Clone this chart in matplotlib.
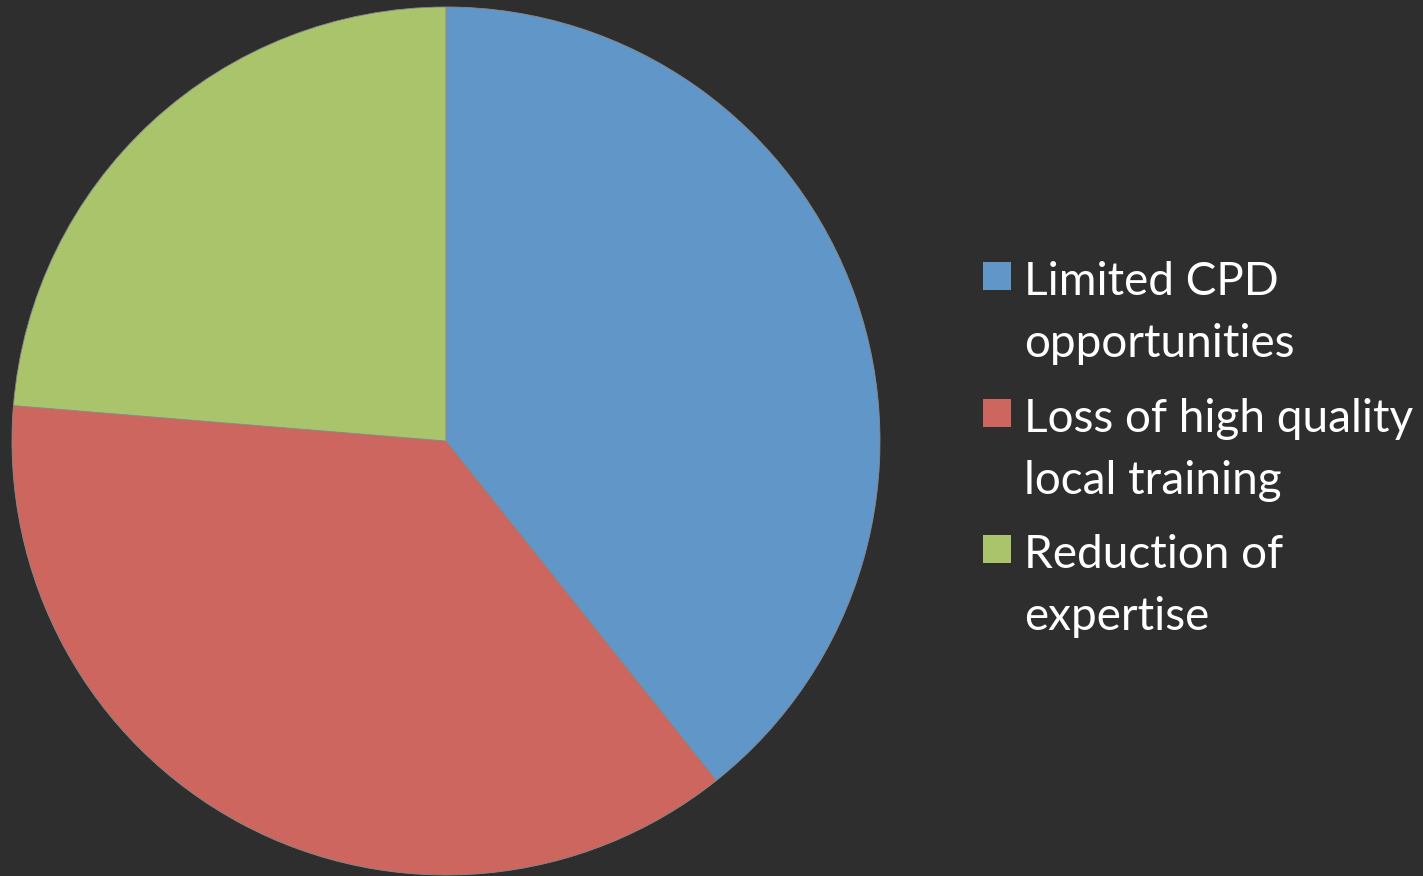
import matplotlib
matplotlib.use("Agg")
import matplotlib.pyplot as plt
from matplotlib.patches import Rectangle

# slice shares (clockwise from 12 o'clock)
labels = ["Limited CPD\nopportunities", "Loss of high quality\nlocal training", "Reduction of\nexpertise"]
shares = [39.3, 37.0, 23.7]
colors = ["#6096c8", "#cc665f", "#aac46c"]

BG = "#2e2e2e"
W, H = 1423, 876

fig = plt.figure(figsize=(W / 100, H / 100), dpi=100, facecolor=BG)

# pie centre (446, 441) px, radius 434 px
cx, cy, r = 446, 441, 434
ax = fig.add_axes([(cx - r) / W, (H - cy - r) / H, 2 * r / W, 2 * r / H])
ax.set_facecolor(BG)
ax.pie(shares, colors=colors, startangle=90, counterclock=False, radius=1,
       wedgeprops=dict(linewidth=0.6, edgecolor="#8a8a8a"))
ax.set_xlim(-1, 1)
ax.set_ylim(-1, 1)
ax.set_aspect("auto")
ax.axis("off")

# legend drawn by hand: square aligned with first line, two-line labels
def fx(px):
    return px / W

def fy(py):
    return 1 - py / H

top0, step = 262, 136.5
for i, (lab, c) in enumerate(zip(labels, colors)):
    y0 = top0 + i * step
    fig.add_artist(Rectangle((fx(983), fy(y0 + 28)), 28 / W, 28 / H,
                             transform=fig.transFigure, facecolor=c, edgecolor="none"))
    for j, line in enumerate(lab.split("\n")):
        fig.text(fx(1024), fy(y0 + 33 + j * 62), line, color="white",
                 family="Lato", fontsize=33, va="baseline", ha="left")

fig.savefig("out.png", dpi=100, facecolor=BG)
